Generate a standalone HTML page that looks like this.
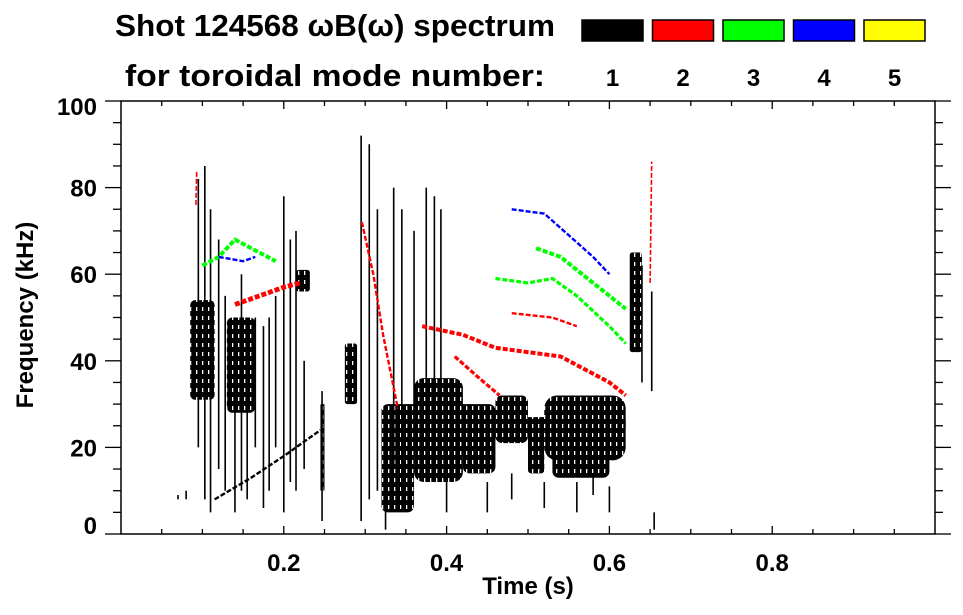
<!DOCTYPE html>
<html><head><meta charset="utf-8"><style>
html,body{margin:0;padding:0;background:#fff;}
svg{display:block;font-family:"Liberation Sans",sans-serif;font-weight:bold;}
</style></head><body>
<svg id="chart" width="963" height="615" viewBox="0 0 963 615" xmlns="http://www.w3.org/2000/svg">
<defs>
<pattern id="tex" width="6" height="9" patternUnits="userSpaceOnUse">
<rect width="6" height="9" fill="#000"/>
<rect x="4" y="1" width="1.3" height="4" fill="#fff"/>
</pattern>
</defs>
<g>
<text x="115" y="36" font-size="31" textLength="440" lengthAdjust="spacingAndGlyphs">Shot 124568 ωB(ω) spectrum</text>
<text x="125" y="86" font-size="31" textLength="420" lengthAdjust="spacingAndGlyphs">for toroidal mode number:</text>
</g>
<g id="legend"></g>
<g id="marks"></g>
<g id="axes"></g>
<text x="528" y="594" font-size="24" text-anchor="middle">Time (s)</text>
<text transform="translate(33,315) rotate(-90)" font-size="24" text-anchor="middle">Frequency (kHz)</text>
</svg>
<script>
// ---- data ----
const modeNumbers = [1, 2, 3, 4, 5];
const modeColors = ['#000000', '#ff0000', '#00ff00', '#0000ff', '#ffff00'];
const xTicks = [0.2, 0.4, 0.6, 0.8];
const yTicks = [0, 20, 40, 60, 80, 100];
// black vertical spikes (n=1)
const spikeT  = [0.095,0.103,0.11,0.12,0.128,0.14,0.148,0.155,0.165,0.175,0.182,0.19,0.2,0.208,0.215,0.225,0.247,0.295,0.305,0.315,0.335,0.345,0.36,0.375,0.385,0.393,0.64,0.652,0.655,0.325,0.4,0.45,0.48,0.52,0.56,0.58,0.6,0.07,0.08];
const spikeLo = [20,8,5,15,10,5,10,8,20,6,10,20,5,12,10,15,3,3,8,10,15,10,20,20,25,30,35,33,1,1,5,5,8,6,5,9,5,8,8];
const spikeHi = [82,85,75,68,55,48,60,50,50,48,50,55,78,68,70,40,33,92,90,75,80,75,70,80,78,75,62,56,5,12,12,12,14,12,12,14,11,9,10];
// dense broadband regions (n=1)
const blobT0 = [0.085,0.13,0.215,0.275,0.32,0.36,0.34,0.42,0.46,0.46,0.5,0.52,0.53,0.625,0.245];
const blobT1 = [0.115,0.165,0.232,0.29,0.36,0.42,0.44,0.46,0.5,0.62,0.52,0.62,0.6,0.64,0.25];
const blobF0 = [31,28,56,30,5,12,18,14,21,24,14,17,13,42,10];
const blobF1 = [54,50,61,44,30,36,30,30,32,27,26,32,20,65,30];
// coherent mode ridges
const ridgeMode = [2,2,2,2,2,2,2,3,3,3,4,4,1];
const ridgeT = [
 [0.14,0.17,0.2,0.22],
 [0.296,0.31,0.322,0.34],
 [0.41,0.44,0.465],
 [0.37,0.42,0.46,0.54,0.6,0.62],
 [0.48,0.53,0.56],
 [0.65,0.652],
 [0.092,0.093],
 [0.1,0.12,0.14,0.16,0.19],
 [0.51,0.54,0.58,0.62],
 [0.46,0.5,0.53,0.56,0.6,0.62],
 [0.48,0.52,0.55,0.58,0.6],
 [0.12,0.15,0.165],
 [0.115,0.16,0.2,0.245]
];
const ridgeF = [
 [53,55,57,58],
 [72,60,46,29],
 [41,36,32],
 [48,46,43,41,35,32],
 [51,50,48],
 [58,86],
 [76,84],
 [62,64,68,66,63],
 [66,64,58,52],
 [59,58,59,55,48,44],
 [75,74,69,64,60],
 [64,63,64],
 [8,13,18,24]
];
const ridgeWidth = [3,1.5,2,2.5,1.5,1,1,2.5,2.5,2,1.5,1.5,1.5];

// ---- scales ----
const X0=121, X1=935, Y0=534, Y1=101;
const xs = t => X0 + (X1-X0)*t;
const ys = f => Y0 - (Y0-Y1)*f/100;
const NS='http://www.w3.org/2000/svg';
function mk(tag, attrs, parent){const e=document.createElementNS(NS,tag);for(const k in attrs)e.setAttribute(k,attrs[k]);parent.appendChild(e);return e;}

// legend
const leg=document.getElementById('legend');
modeNumbers.forEach((m,i)=>{
  const bx=582+i*70.5;
  const r=mk('rect',{x:bx,y:20,width:61,height:21,fill:modeColors[i],stroke:'#000','stroke-width':1.5},leg);
  
  
  const t=mk('text',{x:bx+30.5,y:86,'font-size':24,'text-anchor':'middle'},leg);
  t.textContent=m;
  
  
});

// marks
const g=document.getElementById('marks');
blobT0.forEach((t0,i)=>{
  const x=xs(t0), w=xs(blobT1[i])-x, y=ys(blobF1[i]), h=ys(blobF0[i])-y;
  const b=mk('rect',{x:x,y:y,width:w,height:h,rx:Math.min(w,h)/5,fill:'url(#tex)'},g);
  
  
});
spikeT.forEach((t,i)=>{
  const s=mk('line',{x1:xs(t),x2:xs(t),y1:ys(spikeLo[i]),y2:ys(spikeHi[i]),stroke:'#000','stroke-width':1.6},g);
  
  
});
ridgeT.forEach((ts,i)=>{
  const pts=ts.map((t,j)=>xs(t).toFixed(1)+','+ys(ridgeF[i][j]).toFixed(1)).join(' ');
  const col=modeColors[ridgeMode[i]-1];
  const p=mk('polyline',{points:pts,fill:'none',stroke:col,'stroke-width':ridgeWidth[i]*1.6,'stroke-dasharray':'5 2','stroke-linejoin':'round'},g);
  
  
});

// axes
const ax=document.getElementById('axes');
const frame=mk('rect',{x:X0,y:Y1,width:X1-X0,height:Y0-Y1,fill:'none',stroke:'#000','stroke-width':1.5},ax);


for(let k=1;k<20;k++){
  const t=k*0.05, x=xs(t), major=(k%4===0), L=major?8:5;
  mk('line',{x1:x,x2:x,y1:Y0,y2:Y0-L,stroke:'#000','stroke-width':1.3},ax);
  mk('line',{x1:x,x2:x,y1:Y1,y2:Y1+L,stroke:'#000','stroke-width':1.3},ax);
}
for(let k=0;k<=20;k++){
  const y=ys(k*5), major=(k%4===0), L=major?16:8;
  mk('line',{x1:X0-L,x2:X0,y1:y,y2:y,stroke:'#000','stroke-width':1.3},ax);
  mk('line',{x1:X1,x2:X1+L,y1:y,y2:y,stroke:'#000','stroke-width':1.3},ax);
}
xTicks.forEach(v=>{
  const t=mk('text',{x:xs(v),y:571,'font-size':24,'text-anchor':'middle'},ax);
  t.textContent=v.toFixed(1);
  
  
});
yTicks.forEach(v=>{
  let cy=ys(v); cy=Math.max(Math.min(cy,525),106);
  const t=mk('text',{x:97,y:cy+9,'font-size':24,'text-anchor':'end'},ax);
  t.textContent=v;
  
  
});
</script>
</body></html>
